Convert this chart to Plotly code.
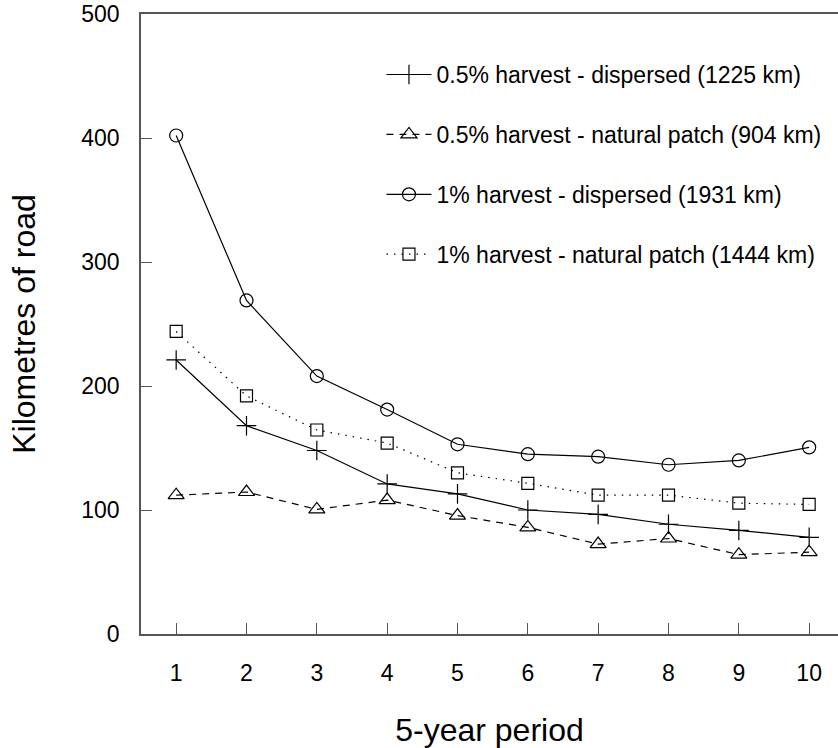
import plotly.graph_objects as go

periods = [1, 2, 3, 4, 5, 6, 7, 8, 9, 10]
names = [
    "0.5% harvest - dispersed (1225 km)",
    "0.5% harvest - natural patch (904 km)",
    "1% harvest - dispersed (1931 km)",
    "1% harvest - natural patch (1444 km)",
]
half_dispersed = [221, 168, 148, 121, 113, 100, 96.5, 88.5, 83.5, 78]
half_patch = [112, 114.5, 100.5, 108, 95.5, 86, 72.5, 77, 64, 66]
one_dispersed = [402, 269, 208, 181, 153, 145, 143, 136.5, 140, 150.5]
one_patch = [244, 192, 164.5, 154, 130, 121.5, 112, 112, 105.5, 104.5]

series = [half_dispersed, half_patch, one_dispersed, one_patch]
symbols = ["cross-thin-open", "triangle-up-open", "circle-open", "square-open"]
sizes = [14, 14, 13, 12]
dashes = ["solid", "7px,6px", "solid", "1.5px,6px"]

fig = go.Figure()
for i, (vals, nm) in enumerate(zip(series, names)):
    fig.add_trace(go.Scatter(
        x=periods, y=vals, name=nm, mode="lines+markers",
        line=dict(color="black", width=1.2, dash=dashes[i]),
        marker=dict(symbol=symbols[i], size=sizes[i], color="black",
                    line=dict(color="black", width=1.2)),
        legendgroup=f"g{i}",
    ))

font = "Liberation Sans, Arial, sans-serif"
fig.update_layout(
    width=838, height=748,
    margin=dict(l=141, r=0, t=14, b=114),
    paper_bgcolor="white", plot_bgcolor="white",
    font=dict(family=font, color="black"),
    showlegend=True,
    legend=dict(x=0.345, y=0.937, xanchor="left", yanchor="top",
                font=dict(size=23, color="black"), tracegroupgap=27,
                itemwidth=45, bgcolor="rgba(0,0,0,0)"),
    xaxis=dict(range=[0.5, 10.41], tickvals=periods, ticks="inside", ticklen=11,
               tickcolor="#555", tickwidth=1.2, showline=True, linecolor="#555",
               linewidth=1.5, mirror=True, showgrid=False, zeroline=False,
               tickfont=dict(size=23), ticklabelstandoff=18,
               title=dict(text="5-year period", font=dict(size=32), standoff=34)),
    yaxis=dict(range=[0, 500], tickvals=[0, 100, 200, 300, 400, 500], ticks="inside",
               ticklen=11, tickcolor="#555", tickwidth=1.2, showline=True,
               linecolor="#555", linewidth=1.5, showgrid=False, zeroline=False,
               tickfont=dict(size=23), ticklabelstandoff=15,
               title=dict(text="Kilometres of road", font=dict(size=32), standoff=36)),
)

fig.write_html("out.html")
